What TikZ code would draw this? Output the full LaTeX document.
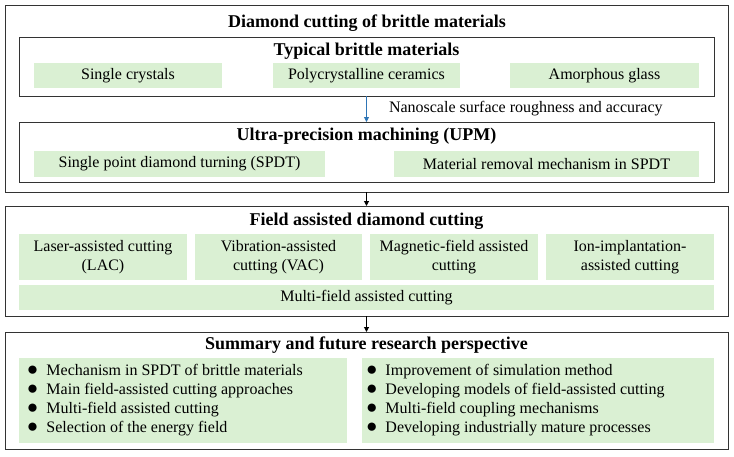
\documentclass[tikz,border=0pt]{standalone}
\usepackage{fontspec}
\setmainfont{Liberation Serif}
\usetikzlibrary{arrows.meta}
\definecolor{boxgreen}{RGB}{218,240,211}
\definecolor{arrowblue}{RGB}{46,117,182}
\newcommand{\bulletmark}{{\fontsize{19}{19}\selectfont ●}\hspace{8pt}}

\begin{document}
\begin{tikzpicture}[x=1pt,y=-1pt]
\tikzstyle{every node}=[inner sep=0pt,outer sep=0pt]
\tikzstyle{frame}=[draw=black!80,line width=1pt,fill=white]
\tikzstyle{item}=[fill=boxgreen,align=center,font=\fontsize{16}{19}\selectfont]
\tikzstyle{heading}=[font=\fontsize{18}{21}\selectfont\bfseries]
\tikzstyle{link}=[draw=black,line width=1pt,-{Triangle[length=5pt,width=5pt]}]
\useasboundingbox (0,0) rectangle (734,456);
\node[frame,minimum width=723pt,minimum height=187pt] (dcbm) at (366.5,98.5) {};
\node[heading] (dcbmtitle) at (367,23) {Diamond cutting of brittle materials};
\node[frame,minimum width=695pt,minimum height=59pt] (typ) at (366.5,66.5) {};
\node[heading] (typtitle) at (366.5,51) {Typical brittle materials};
\node[item,minimum width=188pt,minimum height=25pt] (sc) at (128,75.5) {Single crystals};
\node[item,minimum width=187pt,minimum height=25pt] (pc) at (366.5,75.5) {Polycrystalline ceramics};
\node[item,minimum width=189pt,minimum height=25pt] (ag) at (604.5,75.5) {Amorphous glass};
\node[frame,minimum width=695pt,minimum height=60pt] (upm) at (366.5,152) {};
\node[heading] (upmtitle) at (366.5,136) {Ultra-precision machining (UPM)};
\node[item,minimum width=291pt,minimum height=26pt] (spdt) at (179.5,164) {Single point diamond turning (SPDT)};
\node[item,minimum width=305pt,minimum height=26pt] (mrm) at (546.5,164) {Material removal mechanism in SPDT};
\draw[link,draw=arrowblue,line width=0.8pt] (typ) -- (upm);
\node[anchor=west,font=\fontsize{16}{19}\selectfont] (nano) at (389,109) {Nanoscale surface roughness and accuracy};
\node[frame,minimum width=723pt,minimum height=110pt] (fadc) at (366.5,261) {};
\node[heading] (fadctitle) at (366.5,221) {Field assisted diamond cutting};
\node[item,minimum width=168pt,minimum height=46pt] (lac) at (103,257) {Laser-assisted cutting\\(LAC)};
\node[item,minimum width=167pt,minimum height=46pt] (vac) at (278.5,257) {Vibration-assisted\\cutting (VAC)};
\node[item,minimum width=168pt,minimum height=46pt] (mfa) at (454,257) {Magnetic-field assisted\\cutting};
\node[item,minimum width=168pt,minimum height=46pt] (iia) at (630,257) {Ion-implantation-\\assisted cutting};
\node[item,minimum width=695pt,minimum height=25pt] (mfac) at (366.5,297.5) {Multi-field assisted cutting};
\node[frame,minimum width=723pt,minimum height=117pt] (sfrp) at (366.5,390.5) {};
\node[heading] (sfrptitle) at (366.5,345) {Summary and future research perspective};
\node[item,minimum width=328pt,minimum height=85pt] (sumbox) at (183,400.5) {};
\node[item,minimum width=352pt,minimum height=85pt] (perbox) at (538,400.5) {};
\node[anchor=west,align=left,font=\fontsize{16}{19}\selectfont] (sumlist) at (27,400.5)
  {\bulletmark Mechanism in SPDT of brittle materials\\
   \bulletmark Main field-assisted cutting approaches\\
   \bulletmark Multi-field assisted cutting\\
   \bulletmark Selection of the energy field};
\node[anchor=west,align=left,font=\fontsize{16}{19}\selectfont] (perlist) at (366,400.5)
  {\bulletmark Improvement of simulation method\\
   \bulletmark Developing models of field-assisted cutting\\
   \bulletmark Multi-field coupling mechanisms\\
   \bulletmark Developing industrially mature processes};
\draw[link] (dcbm) -- (fadc);
\draw[link] (fadc) -- (sfrp);
\end{tikzpicture}
\end{document}
